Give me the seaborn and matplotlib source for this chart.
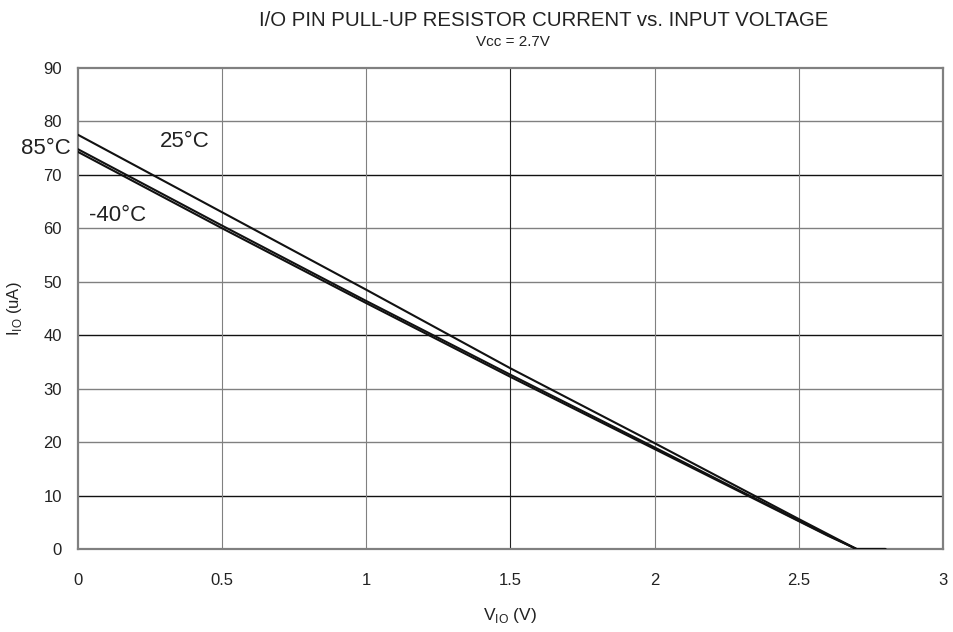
import numpy as np
import pandas as pd
import matplotlib
matplotlib.use("Agg")
import matplotlib.pyplot as plt
import seaborn as sns

# Data
v_io = [0.0, 0.5, 1.0, 1.5, 2.0, 2.5, 2.6, 2.7, 2.8]
i_25c = [77.5, 63.0, 48.5, 33.8, 19.8, 5.6, 2.8, 0.0, 0.0]
i_85c = [74.8, 60.5, 46.4, 32.6, 19.0, 5.3, 2.6, 0.0, 0.0]
i_m40c = [74.3, 60.0, 46.0, 32.2, 18.7, 5.2, 2.5, 0.0, 0.0]

x_ticks = [0, 0.5, 1, 1.5, 2, 2.5, 3]
x_tick_labels = ["0", "0.5", "1", "1.5", "2", "2.5", "3"]
y_ticks = [0, 10, 20, 30, 40, 50, 60, 70, 80, 90]

title = "I/O PIN PULL-UP RESISTOR CURRENT vs. INPUT VOLTAGE"
subtitle = "Vcc = 2.7V"

df = pd.concat([
    pd.DataFrame({"V": v_io, "I": i_25c, "T": "25°C"}),
    pd.DataFrame({"V": v_io, "I": i_85c, "T": "85°C"}),
    pd.DataFrame({"V": v_io, "I": i_m40c, "T": "-40°C"}),
])

sns.set_style("white")
plt.rcParams["font.family"] = ["Liberation Sans", "DejaVu Sans"]

fig = plt.figure(figsize=(9.54, 6.32), dpi=100)
ax = fig.add_axes([78/954, 1-549/632, (943-78)/954, (549-68)/632])

# grid lines (mixed grey/black as in reference)
black_h = {10, 40, 70}
for y in y_ticks[1:-1]:
    ax.axhline(y, color="#111111" if y in black_h else "#808080", lw=1.0, zorder=1)
for x in x_ticks[1:-1]:
    ax.axvline(x, color="#222222" if x == 1.5 else "#808080", lw=0.8, zorder=1)

sns.lineplot(data=df, x="V", y="I", units="T", estimator=None, color="#111111",
             lw=1.5, ax=ax, legend=False, zorder=3, sort=False)

ax.set_xlim(0, 3)
ax.set_ylim(0, 90)
ax.set_xticks(x_ticks)
ax.set_xticklabels(x_tick_labels)
ax.set_yticks(y_ticks)
ax.tick_params(axis="both", length=0, labelsize=12, colors="#222222")
ax.tick_params(axis="x", pad=17)
ax.tick_params(axis="y", pad=11.5)
for s in ax.spines.values():
    s.set_color("#808080")
    s.set_linewidth(1.6)

ax.set_xlabel(r"V$_{\mathregular{IO}}$ (V)", fontsize=12.5, labelpad=13, color="#222222")
ax.set_ylabel(r"I$_{\mathregular{IO}}$ (uA)", fontsize=12, labelpad=14, color="#222222")

fig.text(544/954, 1-20/632, title, ha="center", va="center", fontsize=14.7, color="#222222")
fig.text(513/954, 1-42/632, subtitle, ha="center", va="center", fontsize=11, color="#222222")

ax.text(0.285, 76.2, "25°C", fontsize=16, ha="left", va="center", color="#222222")
ax.text(-0.026, 75.0, "85°C", fontsize=16, ha="right", va="center", color="#222222", clip_on=False)
ax.text(0.038, 62.4, "-40°C", fontsize=16, ha="left", va="center", color="#222222")

fig.savefig("out.png", dpi=100)
